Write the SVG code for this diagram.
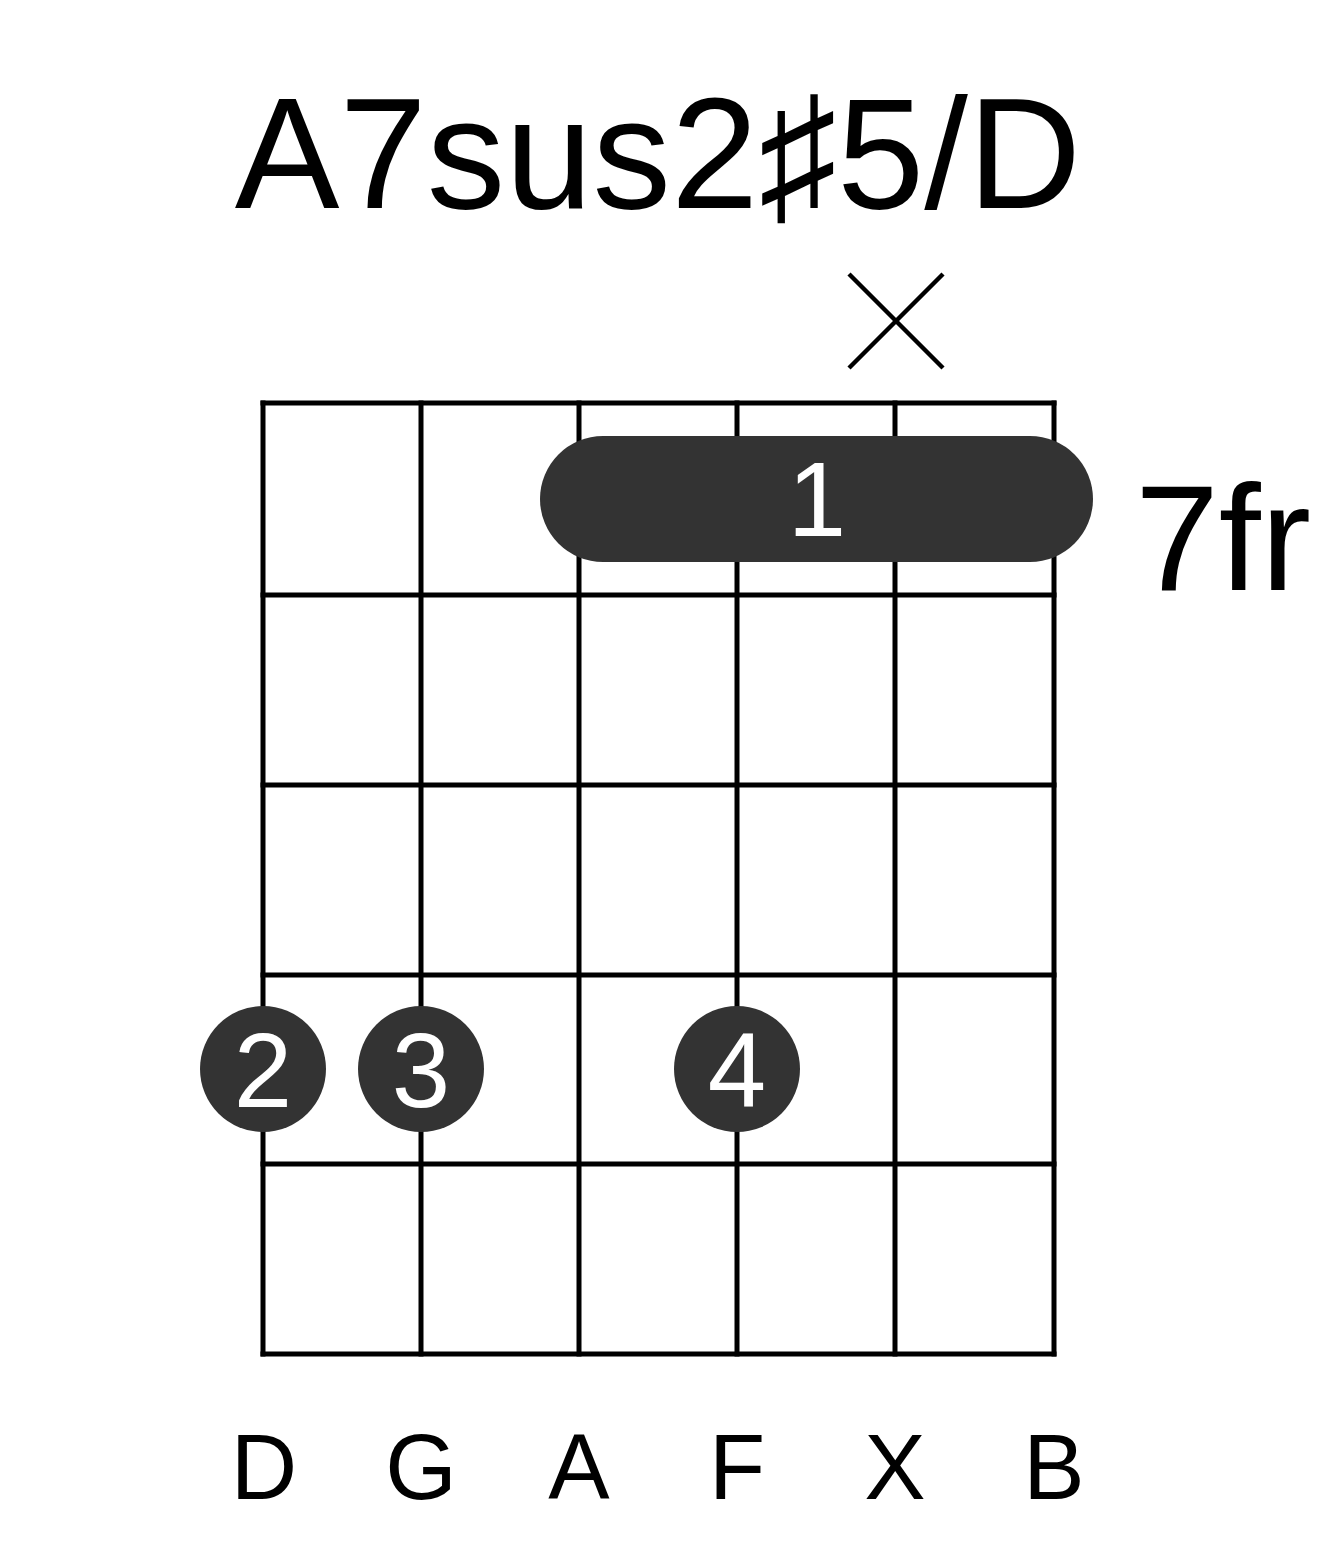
<svg xmlns="http://www.w3.org/2000/svg" width="1317" height="1551" viewBox="0 0 1317 1551">
<style>
.grid line{stroke:#000;stroke-width:5;stroke-linecap:square}
.t{font-family:"Liberation Sans",Arial,sans-serif;fill:#000;text-anchor:middle}
.dot{fill:#333}
.fn{font-family:"Liberation Sans",Arial,sans-serif;fill:#fff;text-anchor:middle;font-size:105px}
.mute{stroke:#000;stroke-width:4.5}
</style>
<rect width="1317" height="1551" fill="#fff"/>
<g id="title"><text class="t" x="658" y="208" font-size="157">A7sus2♯5/D</text></g>
<g id="grid" class="grid">
<line x1="263" y1="403" x2="263" y2="1354"/>
<line x1="421" y1="403" x2="421" y2="1354"/>
<line x1="579" y1="403" x2="579" y2="1354"/>
<line x1="737" y1="403" x2="737" y2="1354"/>
<line x1="895" y1="403" x2="895" y2="1354"/>
<line x1="1054" y1="403" x2="1054" y2="1354"/>
<line x1="263" y1="403" x2="1054" y2="403"/>
<line x1="263" y1="595" x2="1054" y2="595"/>
<line x1="263" y1="785" x2="1054" y2="785"/>
<line x1="263" y1="975" x2="1054" y2="975"/>
<line x1="263" y1="1164" x2="1054" y2="1164"/>
<line x1="263" y1="1354" x2="1054" y2="1354"/>
</g>
<g id="mute-x"><line class="mute" x1="849" y1="274" x2="943" y2="368"/><line class="mute" x1="943" y1="274" x2="849" y2="368"/></g>
<g id="barre-1"><rect class="dot" x="540" y="436" width="553" height="126" rx="63" ry="63"/><text class="fn" x="817" y="536">1</text></g>
<g id="fret-label"><text class="t" x="1223" y="590" font-size="151">7fr</text></g>
<g id="dot-2"><circle class="dot" cx="263" cy="1069" r="63"/><text class="fn" x="263" y="1107">2</text></g>
<g id="dot-3"><circle class="dot" cx="421" cy="1069" r="63"/><text class="fn" x="421" y="1107">3</text></g>
<g id="dot-4"><circle class="dot" cx="737" cy="1069" r="63"/><text class="fn" x="737" y="1107">4</text></g>
<g id="strings">
<text class="t" x="264" y="1499" font-size="92">D</text>
<text class="t" x="421" y="1499" font-size="92">G</text>
<text class="t" x="579" y="1499" font-size="92">A</text>
<text class="t" x="737" y="1499" font-size="92">F</text>
<text class="t" x="895" y="1499" font-size="92">X</text>
<text class="t" x="1054" y="1499" font-size="92">B</text>
</g>
<g id="connectors"></g>
</svg>
